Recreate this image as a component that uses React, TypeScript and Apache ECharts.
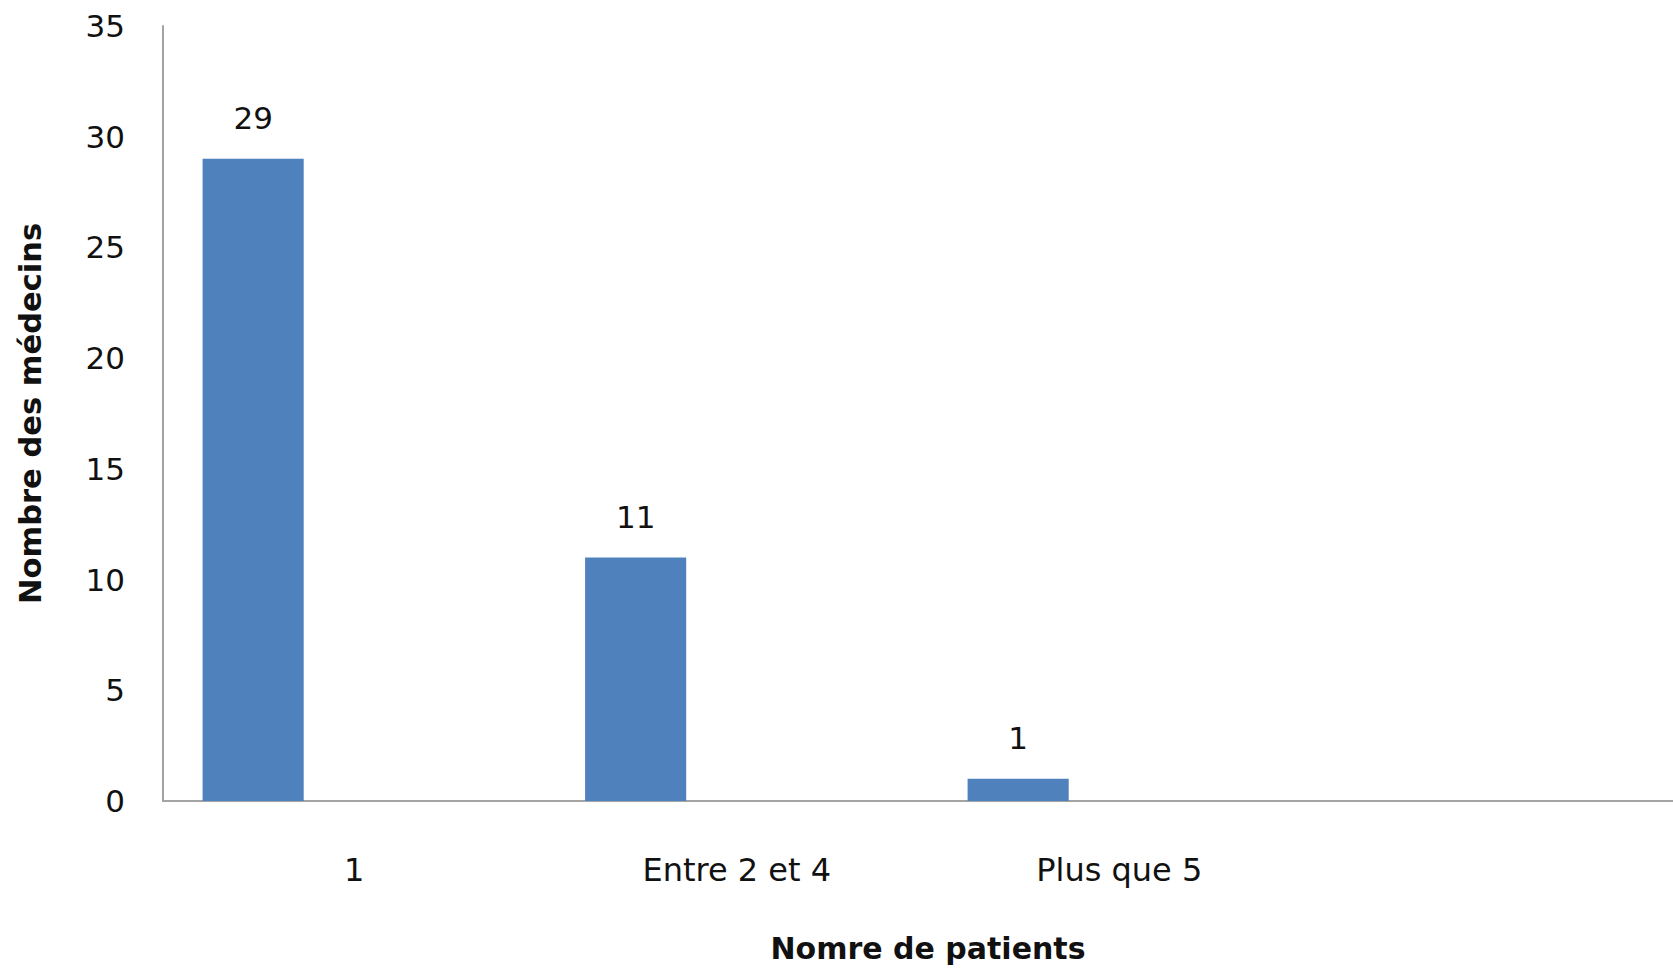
import React, { useEffect, useRef } from "react";
import * as echarts from "echarts";

// Number of patients per doctor (the fourth slot of the axis is left empty)
const categories = ["1", "Entre 2 et 4", "Plus que 5", ""];
const medecins = [29, 11, 1, null];
const emptySeries = [null, null, null, null];

const yMin = 0;
const yMax = 35;
const yStep = 5;

const FONT = "DejaVu Sans";
const TEXT = "#111111";

export default function App() {
  const ref = useRef<HTMLDivElement>(null);

  useEffect(() => {
    if (!ref.current) return;
    const chart = echarts.init(ref.current, undefined, { renderer: "svg" });
    const barCommon = {
      type: "bar" as const,
      barGap: "0%",
      barCategoryGap: "20.7%",
    };
    chart.setOption({
      animation: false,
      backgroundColor: "#ffffff",
      textStyle: { fontFamily: FONT },
      grid: {
        left: 163,
        width: 1530,
        top: 26,
        bottom: 169,
        containLabel: false,
        outerBoundsMode: "none",
      },
      xAxis: {
        type: "category",
        data: categories,
        name: "Nomre de patients",
        nameLocation: "middle",
        nameGap: 132,
        nameTextStyle: { fontFamily: FONT, fontSize: 30, fontWeight: "bold", color: TEXT },
        axisLine: { lineStyle: { color: "#a3a3a3", width: 2 } },
        axisTick: { show: false },
        axisLabel: { fontFamily: FONT, fontSize: 32, color: TEXT, margin: 53, interval: 0 },
      },
      yAxis: {
        type: "value",
        min: yMin,
        max: yMax,
        interval: yStep,
        name: "Nombre des médecins",
        nameLocation: "middle",
        nameRotate: 90,
        nameGap: 117,
        nameTextStyle: { fontFamily: FONT, fontSize: 30.5, fontWeight: "bold", color: TEXT },
        axisLine: { show: true, lineStyle: { color: "#a3a3a3", width: 2 } },
        axisTick: { show: false },
        splitLine: { show: false },
        axisLabel: { fontFamily: FONT, fontSize: 31, color: TEXT, margin: 38 },
      },
      series: [
        {
          ...barCommon,
          name: "Médecins",
          data: medecins,
          itemStyle: { color: "#4f81bd" },
          label: {
            show: true,
            position: "top",
            distance: 25,
            fontFamily: FONT,
            fontSize: 31,
            color: TEXT,
          },
        },
        { ...barCommon, name: "B", data: emptySeries, itemStyle: { color: "#c0504d" } },
        { ...barCommon, name: "C", data: emptySeries, itemStyle: { color: "#9bbb59" } },
      ],
    });
    return () => chart.dispose();
  }, []);

  return (
    <div
      ref={ref}
      style={{ position: "absolute", left: 0, top: 0, width: 1673, height: 970 }}
    />
  );
}
